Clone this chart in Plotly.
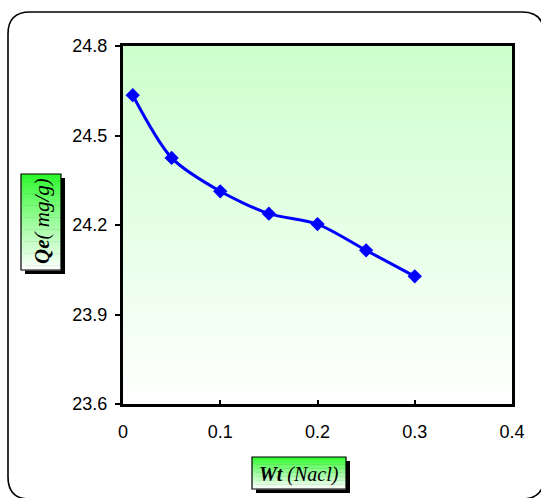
import plotly.graph_objects as go

# NaCl dosage vs. adsorption capacity
wt_nacl = [0.01, 0.05, 0.10, 0.15, 0.20, 0.25, 0.30]
qe_mg_g = [24.635, 24.425, 24.313, 24.238, 24.203, 24.115, 24.028]

x_ticks = [0, 0.1, 0.2, 0.3, 0.4]
x_tick_text = ["0", "0.1", "0.2", "0.3", "0.4"]
y_ticks = [23.6, 23.9, 24.2, 24.5, 24.8]
y_tick_text = ["23.6", "23.9", "24.2", "24.5", "24.8"]

W, H = 541, 498
L, R, T, B = 123, 29, 46, 94
PW, PH = W - L - R, H - T - B


def px(x):
    return (x - L) / PW


def py(y):
    return (H - B - y) / PH


def mix(c0, c1, t):
    return "rgb(%d,%d,%d)" % tuple(round(a + (b - a) * t) for a, b in zip(c0, c1))


shapes = []

# vertical gradient of the plotting area: pale green at top, white at bottom
n = 80
for i in range(n):
    shapes.append(dict(
        type="rect", xref="x domain", yref="y domain",
        x0=0, x1=1, y0=1 - (i + 1) / n, y1=1 - i / n + 0.002,
        fillcolor=mix((204, 255, 204), (255, 255, 255), (i + 0.5) / n),
        line_width=0, layer="below",
    ))


def label_box(x0, y0, x1, y1, shadow=4):
    out = [dict(type="rect", xref="paper", yref="paper",
                x0=px(x0 + shadow), x1=px(x1 + shadow),
                y0=py(y0 + shadow), y1=py(y1 + shadow),
                fillcolor="black", line_width=0)]
    m = 40
    for i in range(m):
        ya = y0 + (y1 - y0) * i / m
        yb = y0 + (y1 - y0) * (i + 1) / m + 0.6
        out.append(dict(type="rect", xref="paper", yref="paper",
                        x0=px(x0), x1=px(x1), y0=py(ya), y1=py(yb),
                        fillcolor=mix((40, 250, 40), (255, 255, 255), ((i + 0.5) / m) ** 0.9),
                        line_width=0))
    out.append(dict(type="rect", xref="paper", yref="paper",
                    x0=px(x0), x1=px(x1), y0=py(y0), y1=py(y1),
                    line=dict(color="black", width=1.2)))
    return out


shapes += label_box(21, 174, 61, 270)
shapes += label_box(252, 457, 346, 489)

# rounded outer frame (right and bottom edges run off the page)
fx0, fy0, fx1, fy1, r = 8, 12, 544, 499, 22
path = (
    f"M {px(fx0 + r)},{py(fy0)} L {px(fx1 - r)},{py(fy0)} "
    f"Q {px(fx1)},{py(fy0)} {px(fx1)},{py(fy0 + r)} "
    f"L {px(fx1)},{py(fy1 - r)} Q {px(fx1)},{py(fy1)} {px(fx1 - r)},{py(fy1)} "
    f"L {px(fx0 + r)},{py(fy1)} Q {px(fx0)},{py(fy1)} {px(fx0)},{py(fy1 - r)} "
    f"L {px(fx0)},{py(fy0 + r)} Q {px(fx0)},{py(fy0)} {px(fx0 + r)},{py(fy0)} Z"
)
shapes.append(dict(type="path", xref="paper", yref="paper", path=path,
                   line=dict(color="black", width=1.6)))

fig = go.Figure()
fig.add_trace(go.Scatter(
    x=wt_nacl, y=qe_mg_g, mode="lines+markers",
    line=dict(color="#0000ff", width=3, shape="spline", smoothing=0.8),
    marker=dict(symbol="diamond", size=11, color="#0000ff"),
    showlegend=False, cliponaxis=False,
))

serif = "Liberation Serif, Times New Roman, serif"
annotations = [
    dict(text="<b><i>Qe</i></b><i>( mg/g)</i>", xref="paper", yref="paper",
         x=px(42), y=py(221), xanchor="center", yanchor="middle",
         textangle=-90, showarrow=False,
         font=dict(family=serif, size=21, color="black")),
    dict(text="<b><i>Wt</i></b><i> (Nacl)</i>", xref="paper", yref="paper",
         x=px(299), y=py(474), xanchor="center", yanchor="middle",
         showarrow=False,
         font=dict(family=serif, size=20, color="black")),
]

sans = "Liberation Sans, Arial, sans-serif"
fig.update_layout(
    width=W, height=H,
    margin=dict(l=L, r=R, t=T, b=B),
    paper_bgcolor="white", plot_bgcolor="white",
    shapes=shapes, annotations=annotations,
    xaxis=dict(range=[0, 0.4], tickvals=x_ticks, ticktext=x_tick_text,
               showgrid=False, zeroline=False, showline=True, linewidth=3,
               linecolor="black", mirror=True, ticks="inside", ticklen=4,
               tickwidth=1.5, tickcolor="black", ticklabelstandoff=9,
               tickfont=dict(family=sans, size=18, color="black")),
    yaxis=dict(range=[23.6, 24.8], tickvals=y_ticks, ticktext=y_tick_text,
               showgrid=False, zeroline=False, showline=True, linewidth=3,
               linecolor="black", mirror=True, ticks="outside", ticklen=5,
               tickwidth=1.5, tickcolor="black", ticklabelstandoff=4,
               tickfont=dict(family=sans, size=18, color="black")),
)

fig.write_html("out.html")
